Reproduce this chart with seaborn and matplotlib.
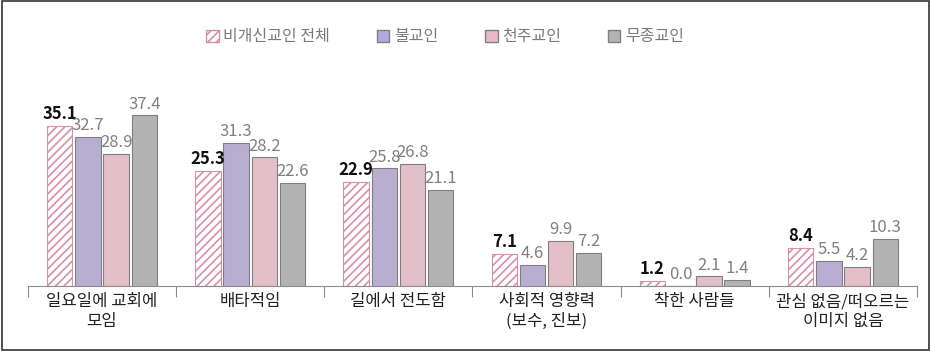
import pandas as pd
import matplotlib.pyplot as plt
import seaborn as sns
from matplotlib.patches import Rectangle

categories = ["일요일에 교회에\n모임", "배타적임", "길에서 전도함",
              "사회적 영향력\n(보수, 진보)", "착한 사람들", "관심 없음/떠오르는\n이미지 없음"]
series_names = ["비개신교인 전체", "불교인", "천주교인", "무종교인"]
total = [35.1, 25.3, 22.9, 7.1, 1.2, 8.4]
buddhist = [32.7, 31.3, 25.8, 4.6, 0.0, 5.5]
catholic = [28.9, 28.2, 26.8, 9.9, 2.1, 4.2]
none_rel = [37.4, 22.6, 21.1, 7.2, 1.4, 10.3]

rows = []
for name, vals in zip(series_names, [total, buddhist, catholic, none_rel]):
    for cat, v in zip(categories, vals):
        rows.append({"cat": cat, "series": name, "value": v})
df = pd.DataFrame(rows)

sns.set_style("white")
plt.rcParams['font.family'] = ['Noto Sans CJK KR', 'DejaVu Sans']
plt.rcParams['hatch.linewidth'] = 1.2

palette = {"비개신교인 전체": "#ffffff", "불교인": "#b5a8d8",
           "천주교인": "#e8b9c6", "무종교인": "#b3b3b3"}

fig = plt.figure(figsize=(9.31, 3.51), dpi=100)
ax = fig.add_axes([0.030, 0.185, 0.955, 0.52])

sns.barplot(data=df, x="cat", y="value", hue="series", palette=palette,
            width=0.76, gap=0.1, ax=ax, legend=False,
            edgecolor="#7f7f7f", linewidth=0.8)

# hatched first series
for p in ax.containers[0]:
    p.set_facecolor("white")
    p.set_hatch("////")
    p.set_edgecolor("#d98fa5")

for i, cont in enumerate(ax.containers):
    if i == 0:
        ax.bar_label(cont, fmt="%.1f", padding=2, fontsize=12,
                     fontweight="bold", color="#111111")
    else:
        ax.bar_label(cont, fmt="%.1f", padding=2, fontsize=12,
                     color="#808080")

ax.set_ylim(0, 40)
ax.set_xlim(-0.5, 5.5)
ax.set_xlabel("")
ax.set_ylabel("")
ax.set_yticks([])
for s in ["top", "right", "left"]:
    ax.spines[s].set_visible(False)
ax.spines["bottom"].set_color("#8c8c8c")

ax.set_xticks([i - 0.5 for i in range(7)])
ax.set_xticklabels([])
ax.tick_params(axis="x", which="major", length=8, color="#8c8c8c", bottom=True)
ax.set_xticks(range(6), minor=True)
ax.set_xticklabels(categories, minor=True, fontsize=12, color="#222222")
ax.tick_params(axis="x", which="minor", length=0, pad=5)

handles = []
for name in series_names:
    if name == "비개신교인 전체":
        h = Rectangle((0, 0), 1, 1, facecolor="white", edgecolor="#d98fa5", hatch="////")
    else:
        h = Rectangle((0, 0), 1, 1, facecolor=palette[name], edgecolor="#7f7f7f")
    handles.append(h)
fig.legend(handles, series_names, loc="center", bbox_to_anchor=(0.478, 0.895),
           ncol=4, frameon=False, fontsize=11.5, labelcolor="#7a7a7a",
           handlelength=0.8, handleheight=0.8, handletextpad=0.3, columnspacing=2.9)

fig.add_artist(Rectangle((0.002, 0.003), 0.996, 0.994, transform=fig.transFigure,
                         fill=False, edgecolor="#333333", linewidth=1.2))

fig.savefig("out.png", dpi=100, facecolor="white")
